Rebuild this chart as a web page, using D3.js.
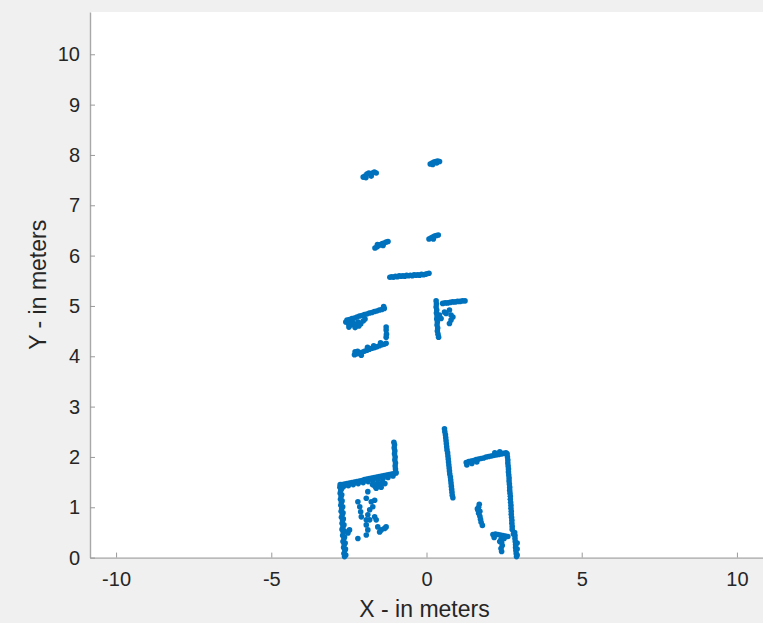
<!DOCTYPE html>
<html><head><meta charset="utf-8">
<script src="https://cdn.jsdelivr.net/npm/d3@7"></script>
<style>html,body{margin:0;padding:0;background:#f0f0f0;}svg{display:block;}</style>
</head><body>
<script>
const xTicks = [-10, -5, 0, 5, 10];
const yTicks = [0,1,2,3,4,5,6,7,8,9,10];
const xLabel = "X - in meters";
const yLabel = "Y - in meters";

// lidar returns, metres [x, y]
const farLeft = [[-2.04,7.56],[-1.98,7.58],[-1.92,7.62],[-1.86,7.64],[-1.80,7.62],[-1.74,7.64],[-1.68,7.66],[-1.62,7.64],[-1.95,7.55],[-1.78,7.58]];
const farRight = [[0.12,7.82],[0.18,7.84],[0.24,7.86],[0.30,7.87],[0.36,7.88],[0.42,7.87],[0.20,7.81],[0.33,7.84]];
const sixLeft = [[-1.66,6.15],[-1.60,6.17],[-1.54,6.20],[-1.48,6.22],[-1.42,6.24],[-1.36,6.25],[-1.30,6.27],[-1.24,6.28],[-1.58,6.22],[-1.40,6.20]];
const sixRight = [[0.08,6.33],[0.14,6.35],[0.20,6.37],[0.26,6.39],[0.32,6.40],[0.38,6.41],[0.22,6.33]];
const wallMid = [[-1.18,5.57],[-1.12,5.58],[-1.06,5.57],[-1.00,5.59],[-0.94,5.58],[-0.88,5.60],[-0.82,5.59],[-0.76,5.60],[-0.70,5.59],[-0.64,5.61],[-0.58,5.60],[-0.52,5.61],[-0.46,5.60],[-0.40,5.62],[-0.34,5.61],[-0.28,5.62],[-0.22,5.61],[-0.16,5.63],[-0.10,5.62],[-0.04,5.63],[0.02,5.64],[0.08,5.65]];
const midLeftUpper = [[-2.56,4.72],[-2.48,4.73],[-2.40,4.75],[-2.32,4.76],[-2.24,4.78],[-2.16,4.80],[-2.08,4.81],[-2.00,4.83],[-1.92,4.84],[-1.84,4.86],[-1.76,4.87],[-1.68,4.89],[-1.60,4.90],[-1.52,4.92],[-1.44,4.93],[-1.36,4.95],[-1.38,4.99],
  [-2.52,4.65],[-2.44,4.62],[-2.36,4.66],[-2.28,4.63],[-2.20,4.68],[-2.12,4.64],[-2.04,4.70],[-2.50,4.58],[-2.30,4.57],[-2.18,4.60],[-1.98,4.74],[-2.40,4.69],[-2.60,4.68]];
const midLeftDash = [[-1.30,4.58],[-1.30,4.52],[-1.29,4.44],[-1.30,4.38]];
const midLeftLower = [[-2.32,4.03],[-2.24,4.05],[-2.16,4.06],[-2.08,4.08],[-2.00,4.10],[-1.92,4.12],[-1.84,4.14],[-1.76,4.16],[-1.68,4.17],[-1.60,4.19],[-1.52,4.21],[-1.44,4.23],[-1.36,4.24],[-1.30,4.26],
  [-2.30,4.09],[-2.22,4.10],[-2.10,4.02],[-1.90,4.18],[-1.70,4.21],[-1.48,4.27]];
const midRight = [[0.31,5.10],[0.32,5.04],[0.31,4.98],[0.33,4.92],[0.32,4.86],[0.34,4.80],[0.33,4.74],[0.35,4.68],[0.34,4.62],[0.36,4.56],[0.35,4.50],[0.37,4.44],[0.39,4.38],
  [0.52,5.05],[0.60,5.06],[0.68,5.06],[0.76,5.07],[0.84,5.08],[0.92,5.08],[1.00,5.09],[1.08,5.09],[1.16,5.10],[1.24,5.10],
  [0.42,4.82],[0.58,4.88],[0.74,4.92],[0.79,4.82],[0.79,4.72],[0.74,4.65],[0.47,4.75],[0.63,4.85],[0.85,4.78]];
const nearLeftWall = [[-2.64,0.02],[-2.66,0.08],[-2.63,0.14],[-2.67,0.20],[-2.65,0.26],[-2.69,0.32],[-2.66,0.38],[-2.70,0.44],[-2.68,0.50],[-2.72,0.56],[-2.69,0.62],[-2.72,0.68],[-2.70,0.74],[-2.74,0.80],[-2.71,0.86],[-2.75,0.92],[-2.73,0.98],[-2.76,1.04],[-2.74,1.10],[-2.77,1.16],[-2.75,1.22],[-2.78,1.28],[-2.76,1.34],[-2.79,1.40],[-2.78,1.45],
  [-2.60,0.05],[-2.61,0.17],[-2.62,0.29],[-2.64,0.41],[-2.65,0.53],[-2.66,0.65],[-2.68,0.77],[-2.69,0.89],[-2.70,1.01],[-2.72,1.13],[-2.73,1.25],[-2.74,1.37]];
const nearLeftTop = [[-2.72,1.45],[-2.64,1.46],[-2.56,1.47],[-2.48,1.48],[-2.40,1.49],[-2.32,1.50],[-2.24,1.51],[-2.16,1.52],[-2.08,1.53],[-2.00,1.55],[-1.92,1.56],[-1.84,1.57],[-1.76,1.58],[-1.68,1.59],[-1.60,1.60],[-1.52,1.61],[-1.44,1.62],[-1.36,1.63],[-1.28,1.64],[-1.20,1.65],[-1.12,1.66],[-1.04,1.67],[-0.98,1.68],
  [-2.68,1.41],[-2.52,1.43],[-2.36,1.45],[-2.20,1.47],[-2.04,1.49],[-1.88,1.51],[-1.72,1.53],[-1.56,1.55],[-1.40,1.57],[-1.24,1.59],[-1.08,1.62],
  [-1.74,1.45],[-1.66,1.42],[-1.58,1.47],[-1.50,1.44],[-1.42,1.50],[-1.34,1.47],[-1.62,1.38],[-1.46,1.40]];
const nearLeftPost = [[-0.99,1.70],[-1.00,1.76],[-1.01,1.82],[-1.00,1.88],[-1.02,1.94],[-1.01,2.00],[-1.03,2.06],[-1.02,2.12],[-1.04,2.18],[-1.03,2.24],[-1.05,2.29]];
const nearLeftInner = [[-1.89,1.31],[-2.21,1.11],[-2.15,1.01],[-2.12,0.91],[-2.10,0.81],[-1.94,1.18],[-1.78,1.11],[-1.67,1.14],[-1.73,1.01],[-1.83,0.95],[-1.89,0.85],[-1.94,0.75],[-1.83,0.75],[-1.94,0.65],[-1.89,0.55],[-1.94,0.45],
  [-1.57,0.61],[-1.46,0.55],[-1.35,0.58],[-1.30,0.61],[-1.51,0.51],[-2.21,0.38],[-2.48,0.55],[-2.53,0.49],[-1.67,0.81],[-1.62,0.75]];
const nearRightPost = [[0.58,2.56],[0.59,2.50],[0.61,2.44],[0.62,2.38],[0.63,2.32],[0.64,2.26],[0.65,2.20],[0.66,2.14],[0.68,2.08],[0.69,2.02],[0.70,1.96],[0.71,1.90],[0.72,1.84],[0.73,1.78],[0.74,1.72],[0.75,1.66],[0.77,1.60],[0.78,1.54],[0.79,1.48],[0.80,1.42],[0.81,1.36],[0.82,1.30],[0.83,1.24],[0.85,1.19]];
const nearRightTop = [[1.28,1.89],[1.36,1.91],[1.44,1.92],[1.52,1.93],[1.60,1.95],[1.68,1.96],[1.76,1.97],[1.84,1.98],[1.92,2.00],[2.00,2.01],[2.08,2.02],[2.16,2.03],[2.24,2.04],[2.32,2.05],[2.40,2.06],[2.48,2.07],[2.56,2.08],
  [1.30,1.84],[1.46,1.87],[1.62,1.90],[2.20,2.08],[2.36,2.10]];
const nearRightWall = [[2.60,2.06],[2.61,2.00],[2.62,1.94],[2.62,1.88],[2.63,1.82],[2.64,1.76],[2.64,1.70],[2.65,1.64],[2.66,1.58],[2.66,1.52],[2.67,1.46],[2.68,1.40],[2.68,1.34],[2.69,1.28],[2.70,1.22],[2.70,1.16],[2.71,1.10],[2.72,1.04],[2.72,0.98],[2.73,0.92],[2.73,0.86],[2.74,0.80],[2.75,0.74],[2.75,0.68],[2.76,0.62],[2.76,0.56],
  [2.84,0.50],[2.85,0.44],[2.85,0.38],[2.86,0.32],[2.87,0.26],[2.87,0.20],[2.88,0.14],[2.89,0.08],[2.90,0.02],[2.92,0.05],[2.92,0.17],[2.92,0.29],[2.80,0.47]];
const nearRightBlob = [[1.70,1.06],[1.68,1.00],[1.66,0.94],[1.68,0.88],[1.72,0.82],[1.74,0.76],[1.76,0.70],[1.80,0.64],[1.64,0.97],[1.72,0.92]];
const nearRightLow = [[2.14,0.46],[2.22,0.47],[2.30,0.46],[2.38,0.45],[2.46,0.44],[2.54,0.43],[2.62,0.42],[2.18,0.40],[2.40,0.36],[2.42,0.30],[2.44,0.24],[2.40,0.18],[2.42,0.12],[2.36,0.32],[2.50,0.38]];

const clusters = [farLeft, farRight, sixLeft, sixRight, wallMid, midLeftUpper, midLeftDash, midLeftLower, midRight,
  nearLeftWall, nearLeftTop, nearLeftPost, nearLeftInner, nearRightPost, nearRightTop, nearRightWall, nearRightBlob, nearRightLow];

const W = 763, H = 623;
const m = {left: 90, top: 12, right: 0, bottom: 65};
const svg = d3.select("body").append("svg").attr("width", W).attr("height", H);
svg.append("rect").attr("width", W).attr("height", H).attr("fill", "#f0f0f0");

const x = d3.scaleLinear().domain([-10.84, 10.84]).range([m.left, W - m.right]);
const y = d3.scaleLinear().domain([0, 10.84]).range([H - m.bottom - 0.4, m.top]);

svg.append("rect").attr("x", m.left).attr("y", m.top)
  .attr("width", W - m.right - m.left).attr("height", y(0) - m.top).attr("fill", "#ffffff");

const font = "'Liberation Sans', Arial, Helvetica, sans-serif";
const tickColor = "#262626";
const fmt = d => String(d);

const gx = svg.append("g").attr("transform", `translate(0,${y(0)})`)
  .call(d3.axisBottom(x).tickValues(xTicks).tickFormat(fmt).tickSizeInner(-5).tickSizeOuter(0).tickPadding(14));
const gy = svg.append("g").attr("transform", `translate(${m.left},0)`)
  .call(d3.axisLeft(y).tickValues(yTicks).tickFormat(fmt).tickSizeInner(-5).tickSizeOuter(0).tickPadding(10));
[gx, gy].forEach(g => {
  g.select(".domain").attr("stroke", "#a8a8a8").attr("stroke-width", 1.4);
  g.selectAll(".tick line").attr("stroke", "#9a9a9a").attr("stroke-width", 1);
  g.selectAll(".tick text").attr("fill", tickColor).style("font-family", font).style("font-size", "20px");
});

svg.append("text").attr("x", x(0) - 2).attr("y", 617).attr("text-anchor", "middle")
  .attr("fill", tickColor).style("font-family", font).style("font-size", "23px").text(xLabel);
svg.append("text").attr("transform", `translate(46,${(m.top + y(0)) / 2}) rotate(-90)`)
  .attr("text-anchor", "middle").attr("fill", tickColor)
  .style("font-family", font).style("font-size", "23px").text(yLabel);

const pts = svg.append("g");
clusters.forEach(c => {
  pts.selectAll(null).data(c).enter().append("circle")
    .attr("cx", d => x(d[0])).attr("cy", d => y(d[1])).attr("r", 2.8).attr("fill", "#0072BD");
});
</script>
</body></html>
